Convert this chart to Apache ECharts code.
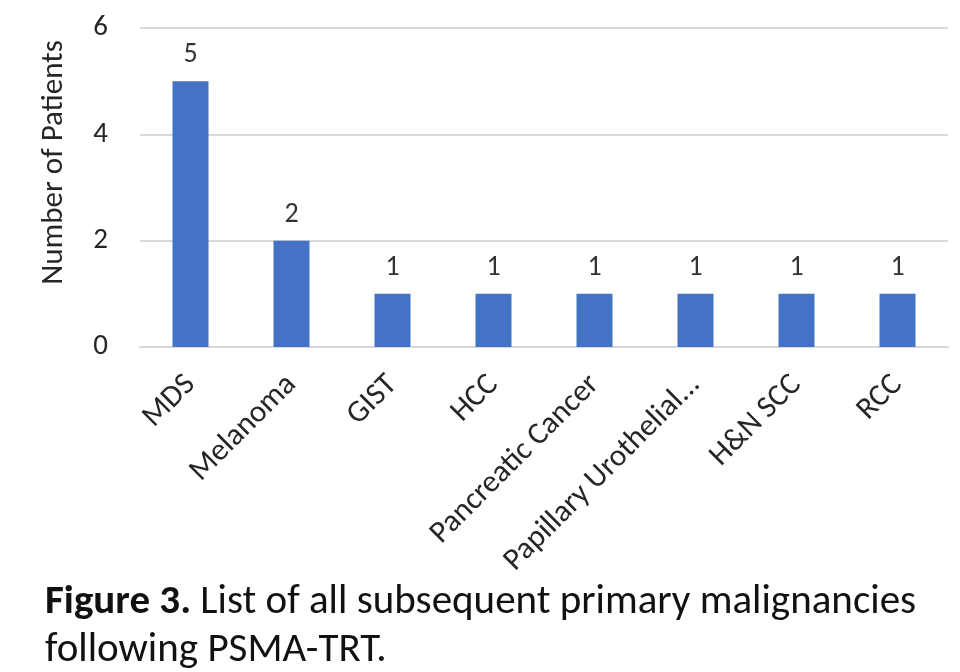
<!DOCTYPE html>
<html>
<head>
<meta charset="utf-8">
<script src="https://cdn.jsdelivr.net/npm/echarts@6/dist/echarts.min.js"></script>
<style>
  html, body { margin: 0; padding: 0; background: #fff; }
  #chart { width: 960px; height: 672px; }
</style>
</head>
<body>
<div id="chart"></div>
<script>
// subsequent primary malignancies
var categories = ['MDS', 'Melanoma', 'GIST', 'HCC', 'Pancreatic Cancer', 'Papillary Urothelial...', 'H&N SCC', 'RCC'];
var patients = [5, 2, 1, 1, 1, 1, 1, 1];
var yTicks = [0, 2, 4, 6];

var font = 'Carlito, Lato, "Open Sans", sans-serif';
var chart = echarts.init(document.getElementById('chart'));

var option = {
    backgroundColor: '#fff',
    animation: false,
    textStyle: { fontFamily: font },
    title: {
        left: 40,
        top: 574,
        text: '{b|Figure 3.} List of all subsequent primary malignancies\nfollowing PSMA-TRT.',
        textStyle: {
            fontFamily: font,
            fontSize: 41,
            fontWeight: 'normal',
            color: '#111',
            lineHeight: 48,
            rich: {
                b: { fontFamily: font, fontSize: 41, fontWeight: 'bold', color: '#111', lineHeight: 48 }
            }
        }
    },
    grid: {
        left: 140,
        right: 12,
        top: 28,
        bottom: 325
    },
    xAxis: {
        type: 'category',
        data: categories,
        axisLine: { lineStyle: { color: '#d9d9d9', width: 2 } },
        axisTick: { show: false },
        axisLabel: {
            rotate: 45,
            interval: 0,
            margin: 33,
            fontSize: 31,
            color: '#262626',
            fontFamily: font
        }
    },
    yAxis: {
        type: 'value',
        min: yTicks[0],
        max: yTicks[yTicks.length - 1],
        interval: 2,
        name: 'Number of Patients',
        nameLocation: 'middle',
        nameGap: 70,
        nameTextStyle: { fontSize: 31, color: '#262626', fontFamily: font, padding: [0, 0, 0, 50] },
        axisLine: { show: false },
        axisTick: { show: false },
        axisLabel: { fontSize: 29, color: '#262626', margin: 32, fontFamily: font },
        splitLine: { lineStyle: { color: '#d9d9d9', width: 2 } }
    },
    series: [{
        type: 'bar',
        data: patients,
        barWidth: 36,
        itemStyle: { color: '#4472C4' },
        label: {
            show: true,
            position: 'top',
            distance: 12,
            fontSize: 28,
            color: '#333',
            fontFamily: font
        }
    }]
};
chart.setOption(option);
</script>
</body>
</html>
